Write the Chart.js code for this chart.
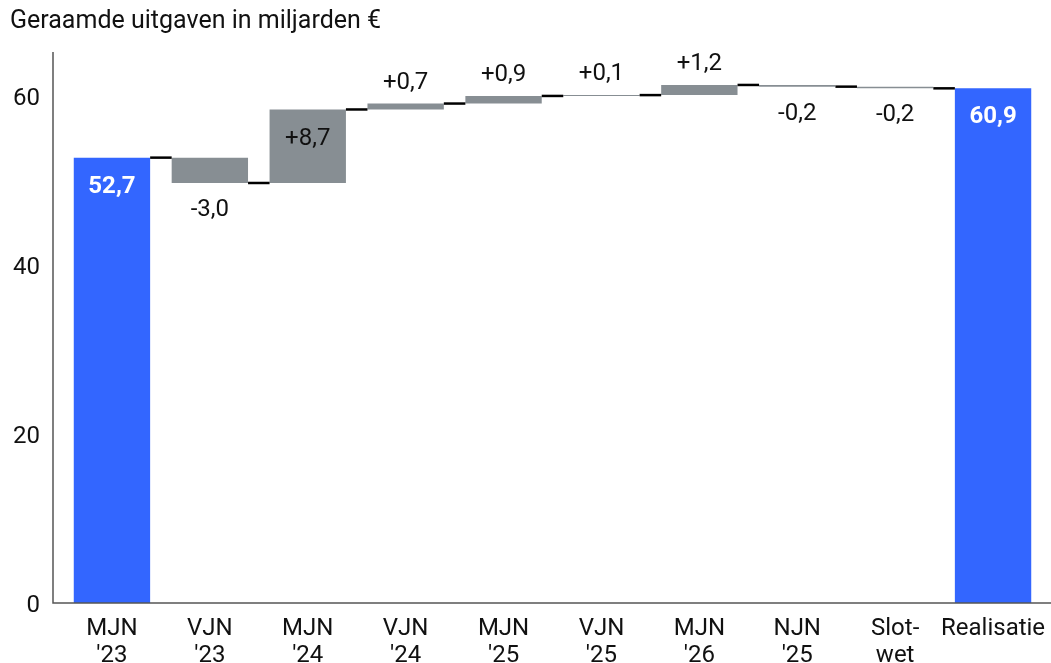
<!DOCTYPE html>
<html>
<head>
<meta charset="utf-8">
<script src="https://cdn.jsdelivr.net/npm/chart.js@4"></script>
<style>
  html, body { margin: 0; padding: 0; background: #fff; }
  #wrap { position: relative; width: 1051px; height: 663px; }
  #titel { position: absolute; left: 10px; top: 5px; font: 25px Roboto, sans-serif; color: #111; }
</style>
</head>
<body>
<div id="wrap">
  <div id="titel">Geraamde uitgaven in miljarden €</div>
  <canvas id="chartWaterval" width="1051" height="663"></canvas>
</div>
<script>
// Categorieën en waarden (miljarden euro)
const categorieen = [["MJN", "'23"], ["VJN", "'23"], ["MJN", "'24"], ["VJN", "'24"], ["MJN", "'25"],
  ["VJN", "'25"], ["MJN", "'26"], ["NJN", "'25"], ["Slot-", "wet"], "Realisatie"];
const startWaarde = 52.7;
const mutaties = [-3.0, 8.7, 0.7, 0.9, 0.1, 1.2, -0.2, -0.2];
const eindWaarde = 60.9;
const yTicks = [0, 20, 40, 60];

const blauw = "#3366ff";
const grijs = "#878e93";

// Zwevende balken opbouwen
const balken = [[0, startWaarde]];
const kleuren = [blauw];
let stand = startWaarde;
mutaties.forEach(m => {
  const nieuw = stand + m;
  balken.push([Math.min(stand, nieuw), Math.max(stand, nieuw)]);
  kleuren.push(grijs);
  stand = nieuw;
});
balken.push([0, eindWaarde]);
kleuren.push(blauw);

// Niveaus voor verbindingslijnen
const niveaus = [startWaarde];
stand = startWaarde;
mutaties.forEach(m => { stand += m; niveaus.push(stand); });

function fmt(v, teken) {
  const s = Math.abs(v).toFixed(1).replace(".", ",");
  if (!teken) return s;
  return (v < 0 ? "-" : "+") + s;
}

const watervalPlugin = {
  id: "waterval",
  afterDatasetsDraw(chart) {
    const c = chart.ctx;
    const meta = chart.getDatasetMeta(0);
    const y = chart.scales.y;
    const area = chart.chartArea;

    // verbindingslijnen
    c.save();
    c.strokeStyle = "#000";
    c.lineWidth = 2.5;
    niveaus.forEach((n, i) => {
      const a = meta.data[i], b = meta.data[i + 1];
      const py = y.getPixelForValue(n);
      c.beginPath();
      c.moveTo(a.x + a.width / 2, py);
      c.lineTo(b.x - b.width / 2, py);
      c.stroke();
    });

    // assen
    c.strokeStyle = "#555";
    c.lineWidth = 1.5;
    c.beginPath();
    c.moveTo(area.left - 10, area.top);
    c.lineTo(area.left - 10, area.bottom);
    c.lineTo(chart.width, area.bottom);
    c.stroke();

    // labels
    c.textAlign = "center";
    c.textBaseline = "middle";
    meta.data.forEach((el, i) => {
      const [lo, hi] = balken[i];
      if (i === 0 || i === balken.length - 1) {
        c.font = "bold 24px Roboto, sans-serif";
        c.fillStyle = "#fff";
        c.fillText(fmt(hi, false), el.x, y.getPixelForValue(hi) + 29);
        return;
      }
      const m = mutaties[i - 1];
      c.font = "24px Roboto, sans-serif";
      c.fillStyle = "#111";
      const hoogte = y.getPixelForValue(lo) - y.getPixelForValue(hi);
      if (m > 0 && hoogte > 50) {
        c.fillText(fmt(m, true), el.x, y.getPixelForValue(hi) + 30);
      } else if (m > 0) {
        c.fillText(fmt(m, true), el.x, y.getPixelForValue(hi) - 21);
      } else {
        c.fillText(fmt(m, true), el.x, y.getPixelForValue(lo) + 27);
      }
    });
    c.restore();
  }
};

const ctx = document.getElementById("chartWaterval").getContext("2d");
new Chart(ctx, {
  type: "bar",
  data: {
    labels: categorieen,
    datasets: [{
      data: balken,
      backgroundColor: kleuren,
      borderWidth: 0,
      categoryPercentage: 1,
      barPercentage: 0.78
    }]
  },
  options: {
    responsive: false,
    animation: false,
    layout: { autoPadding: false, padding: { top: 52, right: 9, left: 0, bottom: 0 } },
    plugins: { legend: { display: false }, tooltip: { enabled: false } },
    scales: {
      x: {
        grid: { display: false, drawTicks: false },
        border: { display: false },
        ticks: { color: "#111", font: { family: "Roboto", size: 24, lineHeight: 1.15 }, padding: 12, maxRotation: 0, autoSkip: false },
        afterFit: s => { s.height = 60; s.paddingLeft = 0; s.paddingRight = 0; }
      },
      y: {
        min: 0,
        max: 65.2,
        afterBuildTicks: s => { s.ticks = yTicks.map(v => ({ value: v })); },
        afterFit: s => { s.width = 63; },
        grid: { display: false, drawTicks: false },
        border: { display: false },
        ticks: { color: "#111", font: { family: "Roboto", size: 24 }, padding: 23, labelOffset: 3 }
      }
    }
  },
  plugins: [watervalPlugin]
});
</script>
</body>
</html>
